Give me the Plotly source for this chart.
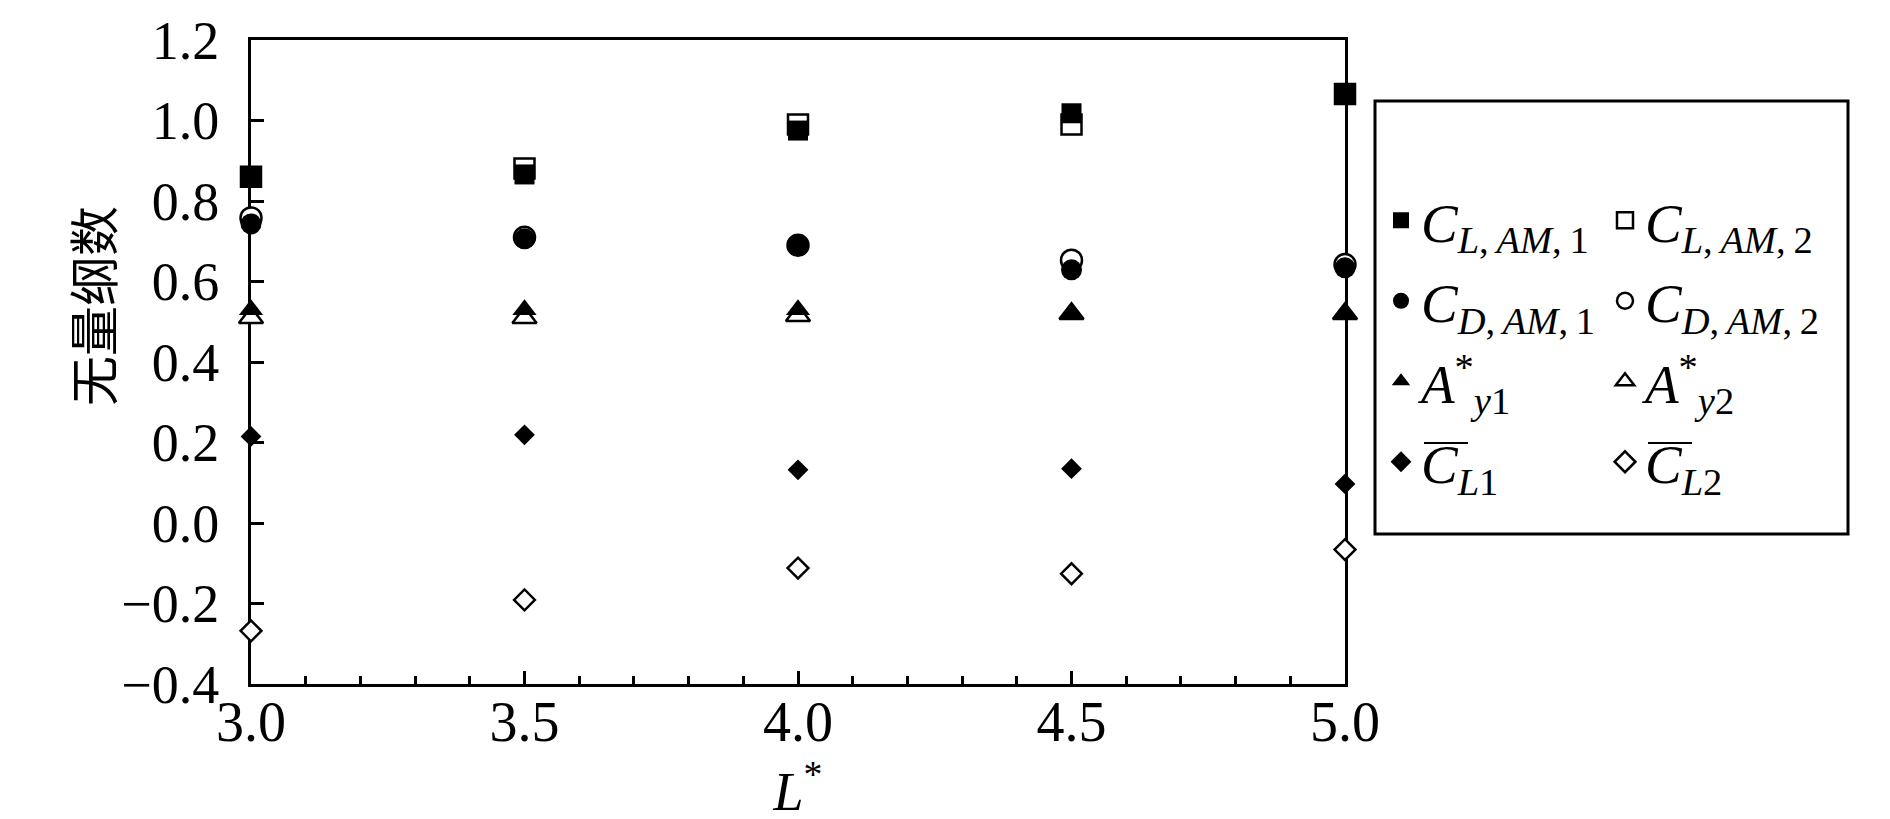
import plotly.graph_objects as go

# ---- data ----
L_star = [3.0, 3.5, 4.0, 4.5, 5.0]
CL_AM_1 = [0.860, 0.866, 0.975, 1.018, 1.066]
CL_AM_2 = [0.860, 0.881, 0.990, 0.990, 1.066]
CD_AM_1 = [0.743, 0.706, 0.689, 0.629, 0.634]
CD_AM_2 = [0.758, 0.710, 0.690, 0.653, 0.642]
Ay_1 = [0.530, 0.530, 0.530, 0.520, 0.520]
Ay_2 = [0.510, 0.510, 0.515, 0.520, 0.520]
CLmean_1 = [0.215, 0.219, 0.132, 0.135, 0.097]
CLmean_2 = [-0.268, -0.191, -0.112, -0.126, -0.066]

x_ticks = [3.0, 3.5, 4.0, 4.5, 5.0]
y_ticks = [-0.4, -0.2, 0.0, 0.2, 0.4, 0.6, 0.8, 1.0, 1.2]

TS = "\u2009"  # thin space
names1 = [f"<i>C</i><sub><i>L</i>,{TS}<i>AM</i>,{TS}1</sub>",
          f"<i>C</i><sub><i>D</i>,{TS}<i>AM</i>,{TS}1</sub>",
          "<i>A</i><sup>*</sup><sub><i>y</i>1</sub>",
          "<i>C</i><sub><i>L</i>1</sub>"]
names2 = [f"<i>C</i><sub><i>L</i>,{TS}<i>AM</i>,{TS}2</sub>",
          f"<i>C</i><sub><i>D</i>,{TS}<i>AM</i>,{TS}2</sub>",
          "<i>A</i><sup>*</sup><sub><i>y</i>2</sub>",
          "<i>C</i><sub><i>L</i>2</sub>"]

series1 = [CL_AM_1, CD_AM_1, Ay_1, CLmean_1]
series2 = [CL_AM_2, CD_AM_2, Ay_2, CLmean_2]
symbols = ["square", "circle", "triangle-up", "diamond"]
sizes = [20, 21, 21, 16]

SERIF = "'Liberation Serif', 'Times New Roman', Times, serif"

fig = go.Figure()

# open (second) series drawn first, filled ones on top
for i, (vals, nm, sym, sz) in enumerate(zip(series2, names2, symbols, sizes)):
    fig.add_trace(go.Scatter(
        x=L_star, y=vals, mode="markers", name=nm, legend="legend2",
        legendgroup=f"b{i}",
        marker=dict(symbol=sym, size=sz, color="white",
                    line=dict(color="black", width=2.5)),
        cliponaxis=False))
for i, (vals, nm, sym, sz) in enumerate(zip(series1, names1, symbols, sizes)):
    fig.add_trace(go.Scatter(
        x=L_star, y=vals, mode="markers", name=nm, legend="legend",
        legendgroup=f"a{i}",
        marker=dict(symbol=sym, size=sz, color="black",
                    line=dict(color="black", width=0)),
        cliponaxis=False))

W, H = 1890, 819
ml, mr, mt, mb = 243, 553, 32, 143
pw, ph = W - ml - mr, H - mt - mb


def px_x(p):
    return (p - ml) / pw


def px_y(p):
    return (H - mb - p) / ph


legend_font = dict(family=SERIF, size=55, color="black")

fig.update_layout(
    width=W, height=H,
    margin=dict(l=ml, r=mr, t=mt, b=mb, autoexpand=False),
    paper_bgcolor="white", plot_bgcolor="white",
    font=dict(family=SERIF, color="black"),
    showlegend=True,
    legend=dict(x=px_x(1373), y=px_y(170), xanchor="left", yanchor="top",
                bgcolor="rgba(0,0,0,0)", borderwidth=0, font=legend_font,
                tracegroupgap=6, itemclick=False),
    legend2=dict(x=px_x(1597), y=px_y(170), xanchor="left", yanchor="top",
                 bgcolor="rgba(0,0,0,0)", borderwidth=0, font=legend_font,
                 tracegroupgap=6, itemclick=False),
    xaxis=dict(range=[3.0, 5.0], tickmode="array", tickvals=x_ticks,
               ticktext=[f"{v:.1f}" for v in x_ticks],
               ticks="inside", ticklen=13, tickwidth=2.5, tickcolor="black",
               minor=dict(dtick=0.1, tick0=3.0, ticks="inside", ticklen=8,
                          tickwidth=2.5, tickcolor="black"),
               showline=True, linewidth=3, linecolor="black", mirror=True,
               showgrid=False, zeroline=False, layer="below traces",
               tickfont=dict(family=SERIF, size=56, color="black"),
               ticklabelstandoff=-13,
               title=dict(text="<i>L</i><sup>*</sup>", standoff=20,
                          font=dict(family=SERIF, size=54, color="black"))),
    yaxis=dict(range=[-0.4, 1.2], tickmode="array", tickvals=y_ticks,
               ticktext=[(f"{v:.1f}" if v >= 0 else "\u2212" + f"{-v:.1f}")
                         for v in y_ticks],
               ticks="inside", ticklen=13, tickwidth=2.5, tickcolor="black",
               showline=True, linewidth=3, linecolor="black", mirror=True,
               showgrid=False, zeroline=False, layer="below traces",
               tickfont=dict(family=SERIF, size=54, color="black"),
               ticklabelstandoff=18),
    shapes=[
        # legend frame
        dict(type="rect", xref="paper", yref="paper",
             x0=px_x(1367), x1=px_x(1840), y0=px_y(526), y1=px_y(93),
             line=dict(color="black", width=3), fillcolor="rgba(0,0,0,0)",
             layer="below"),
        # overlines for mean-lift symbols in legend
        dict(type="line", xref="paper", yref="paper",
             x0=px_x(1416), x1=px_x(1460), y0=px_y(435), y1=px_y(435),
             line=dict(color="black", width=2)),
        dict(type="line", xref="paper", yref="paper",
             x0=px_x(1640), x1=px_x(1684), y0=px_y(435), y1=px_y(435),
             line=dict(color="black", width=2)),
    ],
    annotations=[
        dict(text="无量纲数", textangle=-90, xref="paper", yref="paper",
             x=px_x(83), y=px_y(298), xanchor="center", yanchor="middle",
             showarrow=False,
             font=dict(family="Noto Sans CJK SC", size=50, color="black")),
    ],
)

fig.write_html("out.html")
